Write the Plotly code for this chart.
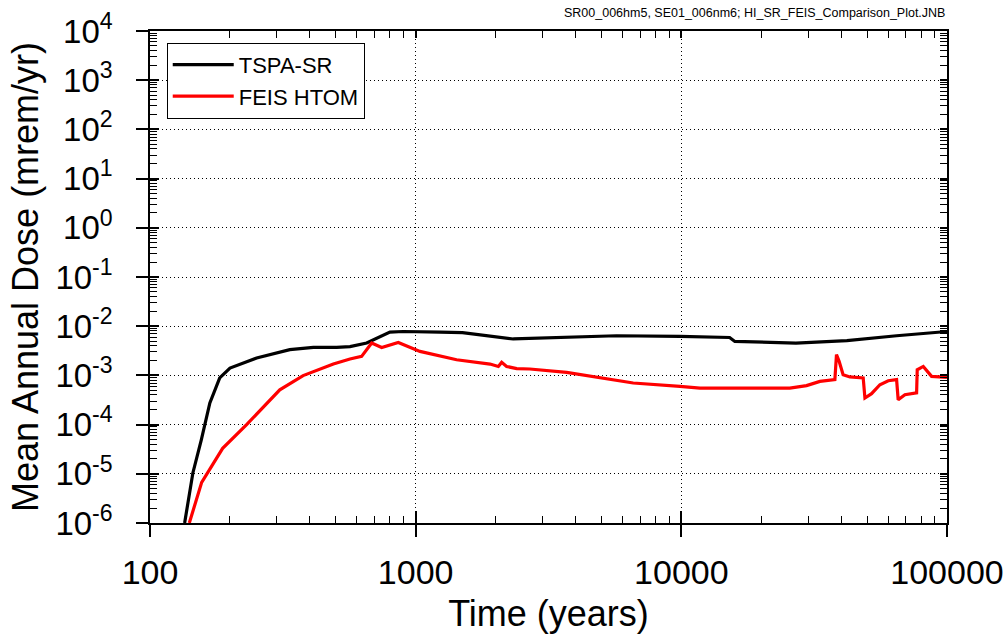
import plotly.graph_objects as go

# ---- data ----
t_tspa = [135, 145, 156, 168, 183, 200, 252, 336, 412, 504, 566, 654, 800, 897,
          1235, 1500, 2330, 5700, 9880, 15200, 15900, 27000, 42000, 64600, 100000]
d_tspa = [1e-6, 1.04e-5, 4.9e-5, 2.75e-4, 8.9e-4, 1.41e-3, 2.26e-3, 3.33e-3, 3.7e-3,
          3.7e-3, 3.85e-3, 4.55e-3, 7.6e-3, 7.8e-3, 7.6e-3, 7.4e-3, 5.5e-3, 6.4e-3,
          6.2e-3, 5.9e-3, 4.9e-3, 4.55e-3, 5.07e-3, 6.4e-3, 7.8e-3]

t_feis = [140.6, 156.5, 187.7, 231, 308, 377, 490, 566, 626, 683, 745, 860, 1038,
          1235, 1426, 1905, 2047, 2107, 2200, 2400, 2690, 3700, 4940, 6590, 9880,
          11750, 25600, 29600, 33240, 37840, 38370, 39260, 40640, 43110, 48370,
          49100, 52000, 55900, 60100, 64600, 65500, 69430, 76840, 77260, 81400,
          87500, 100000]
d_feis = [1e-6, 6.7e-6, 3.3e-5, 1e-4, 5.1e-4, 9.9e-4, 1.7e-3, 2.15e-3, 2.43e-3,
          4.55e-3, 3.7e-3, 4.67e-3, 3.08e-3, 2.5e-3, 2.08e-3, 1.7e-3, 1.52e-3,
          1.84e-3, 1.52e-3, 1.37e-3, 1.35e-3, 1.15e-3, 8.9e-4, 7.0e-4, 6.0e-4,
          5.5e-4, 5.5e-4, 6.2e-4, 7.55e-4, 8.2e-4, 2.64e-3, 1.93e-3, 1.03e-3,
          9.3e-4, 8.9e-4, 3.47e-4, 4.25e-4, 6.46e-4, 7.8e-4, 8.2e-4, 3.2e-4,
          4.06e-4, 4.4e-4, 1.3e-3, 1.52e-3, 9.55e-4, 9.1e-4]

x_tickvals = [100, 1000, 10000, 100000]
x_ticktext = ["100", "1000", "10000", "100000"]
y_exponents = [4, 3, 2, 1, 0, -1, -2, -3, -4, -5, -6]
y_tickvals = [10.0 ** e for e in y_exponents]
y_ticktext = ["10<sup>%d</sup>" % e for e in y_exponents]

series_names = ["TSPA-SR", "FEIS HTOM"]
series_colors = ["#000000", "#ff0000"]

title_text = "SR00_006hm5, SE01_006nm6; HI_SR_FEIS_Comparison_Plot.JNB"
FONT = "Liberation Sans, Arial, sans-serif"

# minor tick positions (2..9 within each decade)
x_minor = [m * 10.0 ** e for e in range(2, 5) for m in range(2, 10)]
y_minor = [m * 10.0 ** e for e in range(-6, 4) for m in range(2, 10)]

fig = go.Figure()
fig.add_trace(go.Scatter(x=t_tspa, y=d_tspa, mode="lines", name=series_names[0],
                         line=dict(color=series_colors[0], width=3.2)))
fig.add_trace(go.Scatter(x=t_feis, y=d_feis, mode="lines", name=series_names[1],
                         line=dict(color=series_colors[1], width=3.2)))
# empty helper traces so overlay axes exist
for xa, ya in [("x2", "y2"), ("x3", "y3")]:
    fig.add_trace(go.Scatter(x=[], y=[], xaxis=xa, yaxis=ya, showlegend=False,
                             hoverinfo="skip"))

xr = [2, 5]
yr = [-6, 4]
common_x = dict(type="log", range=xr, tickmode="array", tickvals=x_tickvals,
                linecolor="black", tickcolor="black", tickwidth=1.5,
                automargin=False)
common_y = dict(type="log", range=yr, tickmode="array", tickvals=y_tickvals,
                linecolor="black", tickcolor="black", tickwidth=1.5,
                automargin=False)
minor_x = dict(ticks="inside", ticklen=7, tickcolor="black", tickmode="array",
               tickvals=x_minor, showgrid=False, tickwidth=1.2)
minor_y = dict(ticks="inside", ticklen=7, tickcolor="black", tickmode="array",
               tickvals=y_minor, showgrid=False, tickwidth=1.2)
GRIDDASH = "1px,3px"

fig.update_layout(
    width=1005, height=634,
    margin=dict(l=150, r=58, t=31, b=111),
    paper_bgcolor="white", plot_bgcolor="white",
    font=dict(family=FONT, color="black"),
    showlegend=True,
    legend=dict(x=0.021, y=0.976, xanchor="left", yanchor="top",
                bgcolor="white", bordercolor="black", borderwidth=1,
                font=dict(size=22, family=FONT), itemwidth=61,
                tracegroupgap=0),
    xaxis=dict(**common_x, ticktext=x_ticktext, ticks="outside", ticklen=12,
               showline=True, linewidth=1.5, showgrid=True, gridcolor="black",
               griddash=GRIDDASH, gridwidth=1, zeroline=False,
               tickfont=dict(size=34, family=FONT), ticklabelstandoff=6,
               minor=minor_x,
               title=dict(text="Time (years)", font=dict(size=36, family=FONT),
                          standoff=17),
               anchor="y"),
    xaxis2=dict(**common_x, overlaying="x", side="top", anchor="y2",
                ticks="inside", ticklen=7, showticklabels=False, showline=True,
                linewidth=1.5, showgrid=False, zeroline=False, minor=minor_x),
    xaxis3=dict(**common_x, overlaying="x", side="bottom", anchor="y3",
                ticks="inside", ticklen=12, showticklabels=False, showline=False,
                showgrid=False, zeroline=False),
    yaxis=dict(**common_y, ticktext=y_ticktext, ticks="outside", ticklen=12,
               showline=True, linewidth=1.5, showgrid=True, gridcolor="black",
               griddash=GRIDDASH, gridwidth=1, zeroline=False,
               tickfont=dict(size=33, family=FONT), ticklabelstandoff=17,
               minor=minor_y,
               title=dict(text="Mean Annual Dose (mrem/yr)",
                          font=dict(size=36, family=FONT), standoff=6),
               anchor="x"),
    yaxis2=dict(**common_y, overlaying="y", side="right", anchor="x2",
                ticks="inside", ticklen=7, showticklabels=False, showline=True,
                linewidth=1.5, showgrid=False, zeroline=False, minor=minor_y),
    yaxis3=dict(**common_y, overlaying="y", side="left", anchor="x3",
                ticks="inside", ticklen=9, showticklabels=False, showline=False,
                showgrid=False, zeroline=False),
    annotations=[dict(text=title_text, xref="paper", yref="paper", x=1.0,
                      y=1.0, yshift=18, xanchor="right", yanchor="middle",
                      showarrow=False, font=dict(size=12.5, family=FONT))],
)

fig.write_html("out.html", config={"displayModeBar": False},
               post_script="document.body.style.margin='0px';")
